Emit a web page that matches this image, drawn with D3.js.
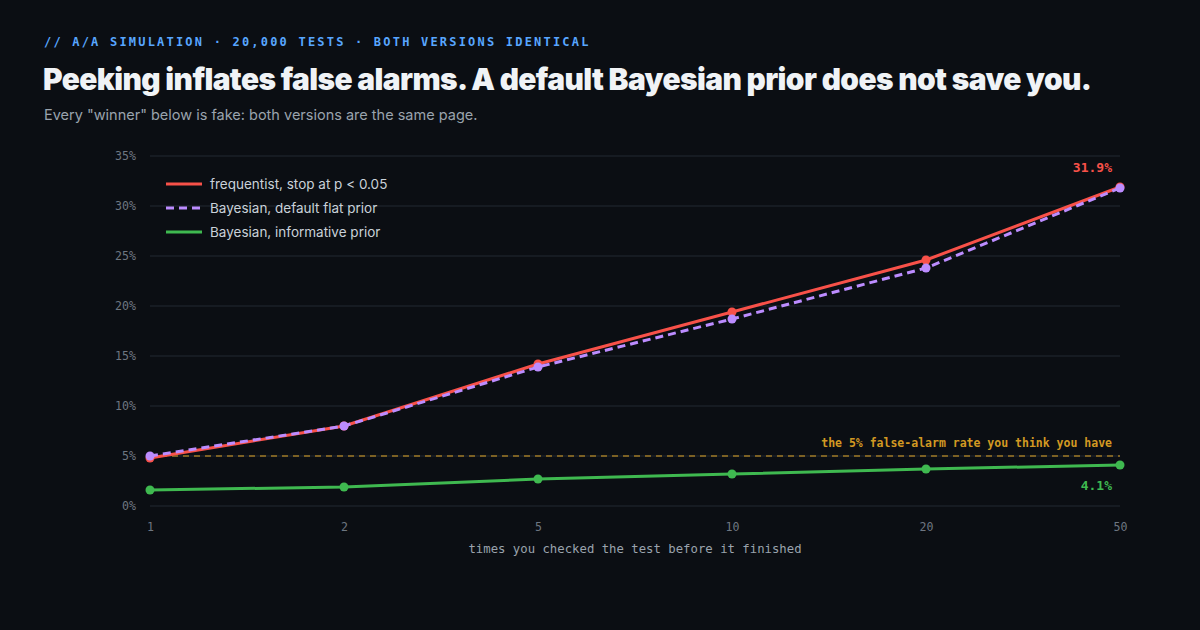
<!DOCTYPE html>
<html>
<head>
<meta charset="utf-8">
<script src="https://cdn.jsdelivr.net/npm/d3@7"></script>
<style>
  html, body { margin: 0; padding: 0; background: #0b0e13; }
  svg { display: block; }
</style>
</head>
<body>
<div id="chart"></div>
<script>
// checks (x categories) and false-alarm rates in percent
const checks = ['1', '2', '5', '10', '20', '50'];
const frequentist = [4.8, 8.0, 14.2, 19.4, 24.6, 31.9];
const bayesFlat = [5.0, 8.0, 13.9, 18.7, 23.8, 31.8];
const bayesInformative = [1.6, 1.9, 2.7, 3.2, 3.7, 4.1];
const yTicks = [0, 5, 10, 15, 20, 25, 30, 35];
const threshold = 5;

const seriesList = [
    { name: 'frequentist, stop at p < 0.05', values: frequentist, color: '#f85149', dash: null },
    { name: 'Bayesian, default flat prior', values: bayesFlat, color: '#bc8cff', dash: '8,5' },
    { name: 'Bayesian, informative prior', values: bayesInformative, color: '#3fb950', dash: null }
];

const width = 1200, height = 630;
const margin = { top: 156, right: 80, bottom: 124, left: 150 };
const mono = '"DejaVu Sans Mono", "Liberation Mono", monospace';
const sans = 'Inter, "Noto Sans", sans-serif';

const svg = d3.select('#chart')
    .append('svg')
    .attr('width', width)
    .attr('height', height);

svg.append('rect')
    .attr('width', width)
    .attr('height', height)
    .attr('fill', '#0b0e13');

// header
svg.append('text')
    .attr('x', 44).attr('y', 46)
    .attr('font-family', mono)
    .attr('font-size', 12)
    .attr('font-weight', 700)
    .attr('letter-spacing', 2.2)
    .attr('fill', '#58a6ff')
    .text('// A/A SIMULATION \u00b7 20,000 TESTS \u00b7 BOTH VERSIONS IDENTICAL');

const title = svg.append('text')
    .attr('x', 43).attr('y', 90)
    .attr('font-family', sans)
    .attr('font-size', 30)
    .attr('font-weight', 900)
    .attr('letter-spacing', -0.6)
    .attr('fill', '#f0f3f6')
    .text('Peeking inflates false alarms. A default Bayesian prior does not save you.');

// fit the headline to the width it takes in the original
let titleLen = title.node().getComputedTextLength();
if (titleLen > 0) title.attr('font-size', 30 * 1049 / titleLen);

svg.append('text')
    .attr('x', 44).attr('y', 120)
    .attr('font-family', sans)
    .attr('font-size', 14.5)
    .attr('fill', '#9aa3ad')
    .text('Every "winner" below is fake: both versions are the same page.');

const x = d3.scalePoint()
    .domain(checks)
    .range([margin.left, width - margin.right]);

const y = d3.scaleLinear()
    .domain([0, 35])
    .range([height - margin.bottom, margin.top]);

// gridlines
svg.append('g')
    .selectAll('line')
    .data(yTicks)
    .enter()
    .append('line')
    .attr('x1', margin.left)
    .attr('x2', width - margin.right)
    .attr('y1', d => y(d))
    .attr('y2', d => y(d))
    .attr('stroke', '#1b2028')
    .attr('stroke-width', 1.5);

// y axis labels
const yAxis = svg.append('g')
    .attr('transform', `translate(${margin.left - 11},0)`)
    .call(d3.axisLeft(y).tickValues(yTicks).tickSize(0).tickFormat(d => d + '%'));
yAxis.select('.domain').remove();
yAxis.selectAll('text')
    .attr('font-family', mono)
    .attr('font-size', 11.6)
    .attr('fill', '#6e7681');

// x axis labels
const xAxis = svg.append('g')
    .attr('transform', `translate(0,${height - margin.bottom + 14})`)
    .call(d3.axisBottom(x).tickSize(0));
xAxis.select('.domain').remove();
xAxis.selectAll('text')
    .attr('font-family', mono)
    .attr('font-size', 11.6)
    .attr('fill', '#6e7681');

svg.append('text')
    .attr('x', (margin.left + width - margin.right) / 2)
    .attr('y', 553)
    .attr('text-anchor', 'middle')
    .attr('font-family', mono)
    .attr('font-size', 12.3)
    .attr('fill', '#9aa3ad')
    .text('times you checked the test before it finished');

// 5% threshold
svg.append('line')
    .attr('x1', margin.left)
    .attr('x2', width - margin.right)
    .attr('y1', y(threshold))
    .attr('y2', y(threshold))
    .attr('stroke', '#9e7a26')
    .attr('stroke-width', 1.5)
    .attr('stroke-dasharray', '6,5');

svg.append('text')
    .attr('x', width - margin.right - 8)
    .attr('y', y(threshold) - 9)
    .attr('text-anchor', 'end')
    .attr('font-family', mono)
    .attr('font-size', 11.5)
    .attr('font-weight', 700)
    .attr('fill', '#d29922')
    .text('the 5% false-alarm rate you think you have');

// series lines and points
const line = d3.line()
    .x((d, i) => x(checks[i]))
    .y(d => y(d));

for (let s of seriesList) {
    svg.append('path')
        .datum(s.values)
        .attr('d', line)
        .attr('fill', 'none')
        .attr('stroke', s.color)
        .attr('stroke-width', 3)
        .attr('stroke-dasharray', s.dash);

    svg.append('g')
        .selectAll('circle')
        .data(s.values)
        .enter()
        .append('circle')
        .attr('cx', (d, i) => x(checks[i]))
        .attr('cy', d => y(d))
        .attr('r', 4.5)
        .attr('fill', s.color);
}

// end labels
const last = checks.length - 1;
svg.append('text')
    .attr('x', width - margin.right - 8)
    .attr('y', y(frequentist[last]) - 15)
    .attr('text-anchor', 'end')
    .attr('font-family', mono)
    .attr('font-size', 13)
    .attr('font-weight', 700)
    .attr('fill', '#f85149')
    .text(frequentist[last].toFixed(1) + '%');

svg.append('text')
    .attr('x', width - margin.right - 8)
    .attr('y', y(bayesInformative[last]) + 25)
    .attr('text-anchor', 'end')
    .attr('font-family', mono)
    .attr('font-size', 13)
    .attr('font-weight', 700)
    .attr('fill', '#3fb950')
    .text(bayesInformative[last].toFixed(1) + '%');

// legend
const legend = svg.append('g')
    .attr('transform', 'translate(166,184)');

const legendItems = legend.selectAll('g')
    .data(seriesList)
    .enter()
    .append('g')
    .attr('transform', (d, i) => `translate(0,${i * 24})`);

legendItems.append('line')
    .attr('x1', 0).attr('x2', 36)
    .attr('stroke', d => d.color)
    .attr('stroke-width', 3)
    .attr('stroke-dasharray', d => d.dash);

legendItems.append('text')
    .attr('x', 44)
    .attr('dy', '0.35em')
    .attr('font-family', sans)
    .attr('font-size', 13.5)
    .attr('fill', '#c9d1d9')
    .text(d => d.name);
</script>
</body>
</html>
